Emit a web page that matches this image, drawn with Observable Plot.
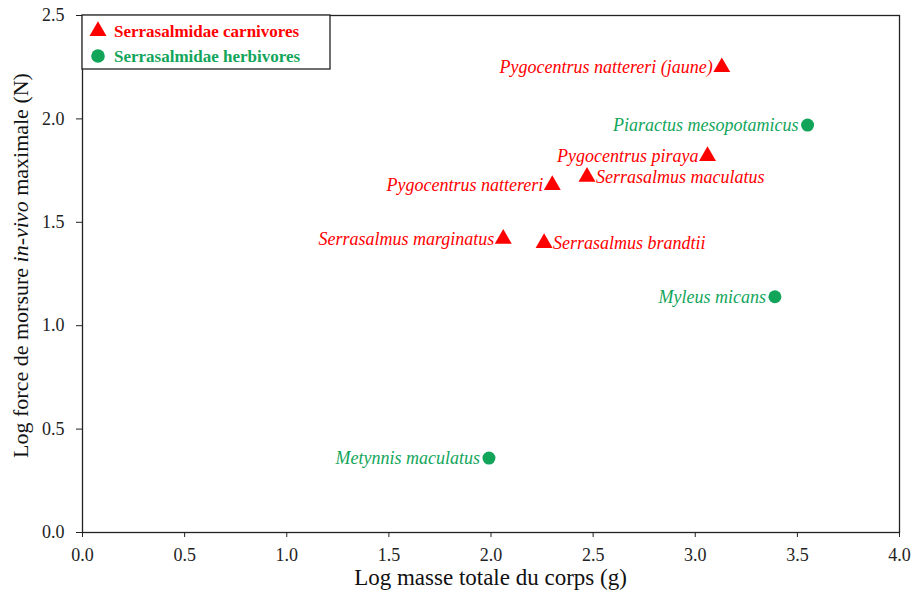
<!DOCTYPE html>
<html>
<head>
<meta charset="utf-8">
<script src="https://cdn.jsdelivr.net/npm/d3@7"></script>
<script src="https://cdn.jsdelivr.net/npm/@observablehq/plot@0.6"></script>
<style>
  html, body { margin: 0; padding: 0; background: #fff; }
  #chart svg { display: block; }
  #chart g[aria-label="x-axis tick label"],
  #chart g[aria-label="y-axis tick label"] {
    font-family: "Liberation Serif", "Times New Roman", serif;
    font-size: 18px;
  }
</style>
</head>
<body>
<div id="chart"></div>
<script>
// Species, log body mass (g), log maximal in-vivo bite force (N), diet group, label side
const species = [
  "Pygocentrus nattereri (jaune)",
  "Piaractus mesopotamicus",
  "Pygocentrus piraya",
  "Serrasalmus maculatus",
  "Pygocentrus nattereri",
  "Serrasalmus marginatus",
  "Serrasalmus brandtii",
  "Myleus micans",
  "Metynnis maculatus"
];
const logMass  = [3.13, 3.55, 3.06, 2.47, 2.30, 2.06, 2.26, 3.39, 1.99];
const logForce = [2.25, 1.97, 1.82, 1.72, 1.68, 1.42, 1.40, 1.14, 0.36];
const diet = ["carnivores", "herbivores", "carnivores", "carnivores", "carnivores",
              "carnivores", "carnivores", "herbivores", "herbivores"];
const labelSide = ["left", "left", "left", "right", "left", "left", "right", "left", "left"];

const groups = ["Serrasalmidae carnivores", "Serrasalmidae herbivores"];
const xTicks = [0, 0.5, 1, 1.5, 2, 2.5, 3, 3.5, 4];
const yTicks = [0, 0.5, 1, 1.5, 2, 2.5];

const RED = "#ff0000";
const GREEN = "#12a55a";
const serif = "Liberation Serif, Times New Roman, serif";

const data = species.map((name, i) => ({
  name, x: logMass[i], y: logForce[i], diet: diet[i], side: labelSide[i]
}));
const carn = data.filter(d => d.diet === "carnivores");
const herb = data.filter(d => d.diet === "herbivores");
const colorOf = d => d.diet === "carnivores" ? RED : GREEN;

const M = { left: 82, right: 12, top: 15, bottom: 58 };
const W = 911, H = 590;

const chart = Plot.plot({
  width: W,
  height: H,
  marginLeft: M.left,
  marginRight: M.right,
  marginTop: M.top,
  marginBottom: M.bottom,
  style: { fontFamily: serif, fontSize: "18px", color: "#222", background: "#fff" },
  x: { domain: [0, 4] },
  y: { domain: [0, 2.5] },
  marks: [
    Plot.frame({ stroke: "#222", strokeWidth: 1.3 }),
    Plot.axisX({ ticks: xTicks, tickFormat: d3.format(".1f"), tickSize: 5, tickPadding: 11,
                 label: null, stroke: "#222" }),
    Plot.axisY({ ticks: yTicks, tickFormat: d3.format(".1f"), tickSize: 6, tickPadding: 12,
                 label: null, stroke: "#222" }),
    Plot.dot(carn, { x: "x", y: "y", symbol: "triangle", r: 6.3, fill: RED, stroke: null }),
    Plot.dot(herb, { x: "x", y: "y", symbol: "circle", r: 6.5, fill: GREEN, stroke: null }),
    Plot.text(data.filter(d => d.side === "left"), {
      x: "x", y: "y", text: "name", fill: colorOf, textAnchor: "end", dx: -9,
      fontStyle: "italic", fontSize: 18, fontFamily: serif
    }),
    Plot.text(data.filter(d => d.side === "right"), {
      x: "x", y: "y", text: "name", fill: colorOf, textAnchor: "start", dx: 9,
      fontStyle: "italic", fontSize: 18, fontFamily: serif
    })
  ]
});

document.getElementById("chart").appendChild(chart);

// Axis titles (the y title mixes upright and italic text)
const svg = d3.select(chart);
const x0 = M.left, x1 = W - M.right, y0 = M.top, y1 = H - M.bottom;

svg.append("text")
  .attr("x", (x0 + x1) / 2)
  .attr("y", 585)
  .attr("text-anchor", "middle")
  .attr("font-family", serif)
  .attr("font-size", 23)
  .attr("fill", "#111")
  .text("Log masse totale du corps (g)");

const yTitle = svg.append("text")
  .attr("transform", `translate(28,${(y0 + y1) / 2 - 8}) rotate(-90)`)
  .attr("text-anchor", "middle")
  .attr("font-family", serif)
  .attr("font-size", 22)
  .attr("fill", "#111");
yTitle.append("tspan").text("Log force de morsure ");
yTitle.append("tspan").attr("font-style", "italic").text("in-vivo");
yTitle.append("tspan").text(" maximale (N)");

// Legend box in the upper-left corner of the frame
const legend = svg.append("g").attr("transform", `translate(${x0},${y0})`);
legend.append("rect")
  .attr("width", 248).attr("height", 54)
  .attr("fill", "#fff").attr("stroke", "#222").attr("stroke-width", 1.3);
const legendColors = [RED, GREEN];
const legendSymbols = [d3.symbolTriangle, d3.symbolCircle];
groups.forEach((g, i) => {
  const cy = 16 + i * 25;
  legend.append("path")
    .attr("transform", `translate(16,${cy})`)
    .attr("d", d3.symbol(legendSymbols[i], i === 0 ? 125 : 145)())
    .attr("fill", legendColors[i]);
  legend.append("text")
    .attr("x", 32).attr("y", cy).attr("dy", "0.35em")
    .attr("text-anchor", "start")
    .attr("font-family", serif).attr("font-weight", "bold")
    .attr("font-size", 17).attr("fill", legendColors[i])
    .text(g);
});
</script>
</body>
</html>
